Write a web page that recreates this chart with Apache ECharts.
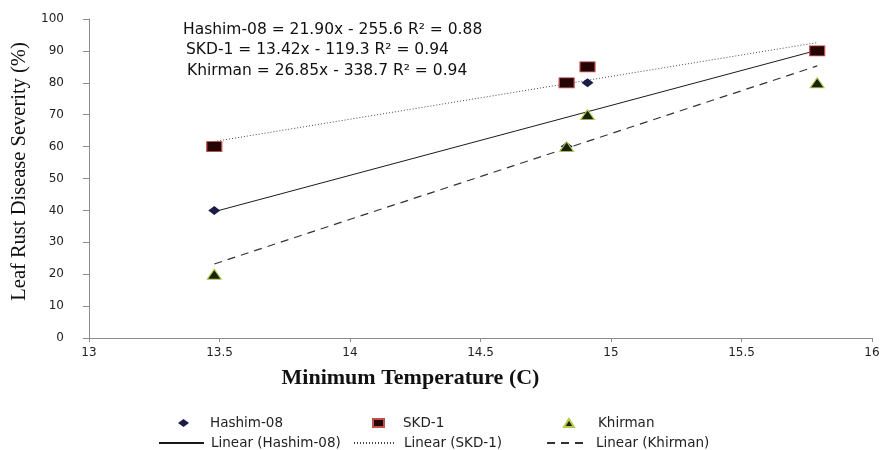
<!DOCTYPE html>
<html>
<head>
<meta charset="utf-8">
<script src="https://cdn.jsdelivr.net/npm/echarts@6/dist/echarts.min.js"></script>
<style>
  html, body { margin: 0; padding: 0; background: #fff; }
  #chart { width: 883px; height: 450px; }
</style>
</head>
<body>
<div id="chart"></div>
<script>
// data
const tempX = [13.48, 14.83, 14.91, 15.79]
const hashim = [40, 60, 80, 90]
const skd = [60, 80, 85, 90]
const khirman = [20, 60, 70, 80]

// trendline end points (x range of the data)
const trendX = [13.48, 15.79]
const hashimTrend = [39.6, 90.2]
const skdTrend = [61.6, 92.6]
const khirmanTrend = [23.2, 85.3]

const equations = [
    'Hashim-08 = 21.90x - 255.6 R² = 0.88',
    'SKD-1 = 13.42x - 119.3 R² = 0.94',
    'Khirman = 26.85x - 338.7 R² = 0.94',
]

const pairs = (xs, ys) => xs.map((x, i) => [x, ys[i]])

const sansFont = 'DejaVu Sans'
const serifFont = 'Liberation Serif'

// one legend box per entry, to get the two-row layout
const legendItem = (name, icon, left, top, w, h, textPad) => ({
    data: [icon ? { name, icon } : { name }],
    left, top,
    itemWidth: w,
    itemHeight: h,
    selectedMode: false,
    // hide the point symbol that line series draw in their legend icon
    itemStyle: icon ? {} : { opacity: 0 },
    textStyle: {
        fontFamily: sansFont, fontSize: 13.5, color: '#222',
        padding: [0, 0, 0, textPad || 0],
    },
})

const chart = echarts.init(document.getElementById('chart'))

chart.setOption({
    animation: false,
    grid: { left: 89, right: 11, top: 19, bottom: 112 },
    xAxis: {
        type: 'value',
        min: 13, max: 16, interval: 0.5,
        name: 'Minimum Temperature (C)',
        nameLocation: 'middle',
        nameGap: 29,
        nameTextStyle: {
            fontFamily: serifFont, fontWeight: 'bold', fontSize: 22, color: '#111',
            padding: [0, 140, 0, 0],
        },
        axisLine: { lineStyle: { color: '#8c8c8c' } },
        axisTick: { show: true, length: 4, lineStyle: { color: '#8c8c8c' } },
        axisLabel: { fontFamily: sansFont, fontSize: 12, color: '#222', margin: 9 },
        splitLine: { show: false },
    },
    yAxis: {
        type: 'value',
        min: 0, max: 100, interval: 10,
        name: 'Leaf Rust Disease Severity (%)',
        nameLocation: 'middle',
        nameGap: 57,
        nameTextStyle: {
            fontFamily: serifFont, fontSize: 20.5, color: '#111',
            padding: [0, 0, 0, 14],
        },
        axisLine: { show: true, lineStyle: { color: '#8c8c8c' } },
        axisTick: { show: true, length: 6, lineStyle: { color: '#8c8c8c' } },
        axisLabel: { fontFamily: sansFont, fontSize: 12, color: '#222', margin: 25 },
        splitLine: { show: false },
    },
    legend: [
        legendItem('Hashim-08', 'diamond', 173, 411, 11, 8, 16),
        legendItem('SKD-1', 'rect', 367, 411, 11, 8, 14),
        legendItem('Khirman', 'triangle', 558, 411, 10, 8, 19),
        legendItem('Linear (Hashim-08)', null, 153, 431, 45, 10, 2),
        legendItem('Linear (SKD-1)', null, 348, 431, 42, 10, 3),
        legendItem('Linear (Khirman)', null, 541, 431, 42, 10, 2),
    ],
    graphic: equations.map((t, i) => ({
        type: 'text',
        x: [183, 186, 187][i],
        y: [30, 50, 71][i],
        style: {
            text: t,
            font: '15.5px "' + sansFont + '"',
            fill: '#111',
            verticalAlign: 'middle',
        },
    })),
    series: [
        {
            name: 'Linear (Hashim-08)', type: 'line', z: 1,
            data: pairs(trendX, hashimTrend),
            symbol: 'none',
            lineStyle: { color: '#1a1a1a', width: 1, type: 'solid' },
            itemStyle: { color: '#1a1a1a' },
        },
        {
            name: 'Linear (SKD-1)', type: 'line', z: 1,
            data: pairs(trendX, skdTrend),
            symbol: 'none',
            lineStyle: { color: '#444', width: 1, type: [1, 2] },
            itemStyle: { color: '#444' },
        },
        {
            name: 'Linear (Khirman)', type: 'line', z: 1,
            data: pairs(trendX, khirmanTrend),
            symbol: 'none',
            lineStyle: { color: '#333', width: 1.2, type: [8, 6] },
            itemStyle: { color: '#333' },
        },
        {
            name: 'Hashim-08', type: 'scatter', z: 3,
            data: pairs(tempX, hashim),
            symbol: 'diamond', symbolSize: [12, 9],
            itemStyle: { color: '#1c1c48', opacity: 1 },
        },
        {
            name: 'SKD-1', type: 'scatter', z: 3,
            data: pairs(tempX, skd),
            symbol: 'rect', symbolSize: [15, 10],
            itemStyle: { color: '#260404', borderColor: '#c0504d', borderWidth: 1, opacity: 1 },
        },
        {
            name: 'Khirman', type: 'scatter', z: 3,
            data: pairs(tempX, khirman),
            symbol: 'triangle', symbolSize: [14, 10],
            itemStyle: { color: '#17240a', borderColor: '#b8c850', borderWidth: 1, opacity: 1 },
        },
    ],
})
</script>
</body>
</html>
